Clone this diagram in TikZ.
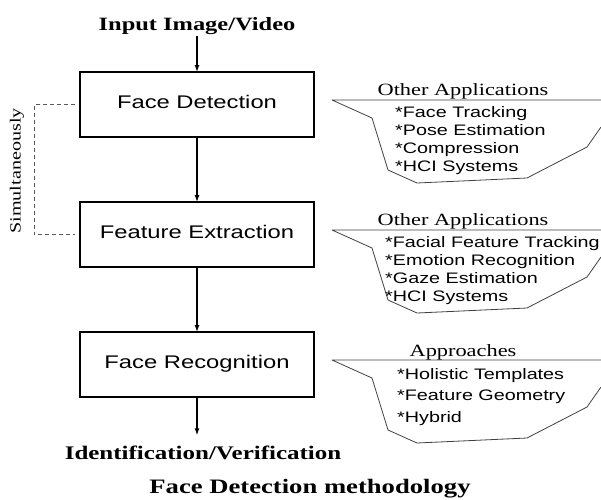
\documentclass[tikz,border=0pt]{standalone}
\usepackage{fontspec}
\setmainfont{Liberation Serif}[FakeStretch=1.3]
\newfontfamily\arialfont{Liberation Sans}[FakeStretch=1.3]
\usetikzlibrary{positioning, arrows.meta}

\begin{document}
\begin{tikzpicture}[x=1pt, y=-1pt,
    stage/.style={draw, line width=1.8pt, minimum width=234pt, minimum height=65pt,
        outer sep=0pt, text height=13pt, text depth=5pt,
        font=\arialfont\fontsize{18.3}{20}\selectfont},
    flow/.style={line width=1.2pt, -{Latex[length=7pt,width=5pt]}},
    io/.style={anchor=base, inner sep=1pt, font=\bfseries\fontsize{18.8}{22}\selectfont},
    apptitle/.style={anchor=base, inner sep=0pt, font=\fontsize{17.2}{20}\selectfont},
    item/.style={anchor=base west, inner sep=0pt, font=\arialfont\fontsize{15.2}{18}\selectfont},
    callout/.style={draw=black!75, line width=0.8pt, line join=round},
    simul/.style={draw=black!65, dash pattern=on 4pt off 3pt, line width=0.9pt}]

    \useasboundingbox (0,0) rectangle (601,499);

    % main stages
    \node[stage] (fd) at (197,104.5) {Face Detection};
    \node[stage, below=65pt of fd] (fe) {Feature Extraction};
    \node[stage, below=65pt of fe] (fr) {Face Recognition};

    \node[io] (input) at (197,30.5) {Input Image/Video};
    \node[io, font=\bfseries\fontsize{19.2}{22}\selectfont] (idv) at (203,459) {Identification/Verification};
    \node[io, font=\bfseries\fontsize{20.5}{24}\selectfont] (caption) at (310,493) {Face Detection methodology};

    \draw[flow] (input) -- (fd);
    \draw[flow] (fd) -- (fe);
    \draw[flow] (fe) -- (fr);
    \draw[flow, shorten >=9pt] (fr) -- (fr.south |- idv.north);

    % detection and extraction run together
    \node[rotate=90, font=\fontsize{15.5}{18}\selectfont] (sim) at (17,171) {Simultaneously};
    \draw[simul] ([xshift=-5pt]fd.west) -- ++(-41,0) |- ([xshift=-5pt]fe.west);

    % side notes
    \foreach \b in {72,202,332}
        \draw[callout] (601,{\b+28}) -- (332,{\b+28}) -- (372,{\b+46}) -- (388,{\b+98})
            -- (417,{\b+111}) -- (527,{\b+106}) -- (587,{\b+75}) -- (601,{\b+55});

    \node[apptitle] (fd-title) at (463,95) {Other Applications};
    \node[apptitle] (fe-title) at (463,225) {Other Applications};
    \node[apptitle] (fr-title) at (463,356) {Approaches};

    \foreach \txt [count=\i] in {*Face Tracking, *Pose Estimation, *Compression, *HCI Systems}
        \node[item] (fd-app-\i) at (395,{117+18.3*(\i-1)}) {\txt};
    \foreach \txt [count=\i] in {*Facial Feature Tracking, *Emotion Recognition, *Gaze Estimation, *HCI Systems}
        \node[item] (fe-app-\i) at (385,{247+18.3*(\i-1)}) {\txt};
    \foreach \txt [count=\i] in {*Holistic Templates, *Feature Geometry, *Hybrid}
        \node[item] (fr-app-\i) at (397,{379+21.5*(\i-1)}) {\txt};
\end{tikzpicture}
\end{document}
